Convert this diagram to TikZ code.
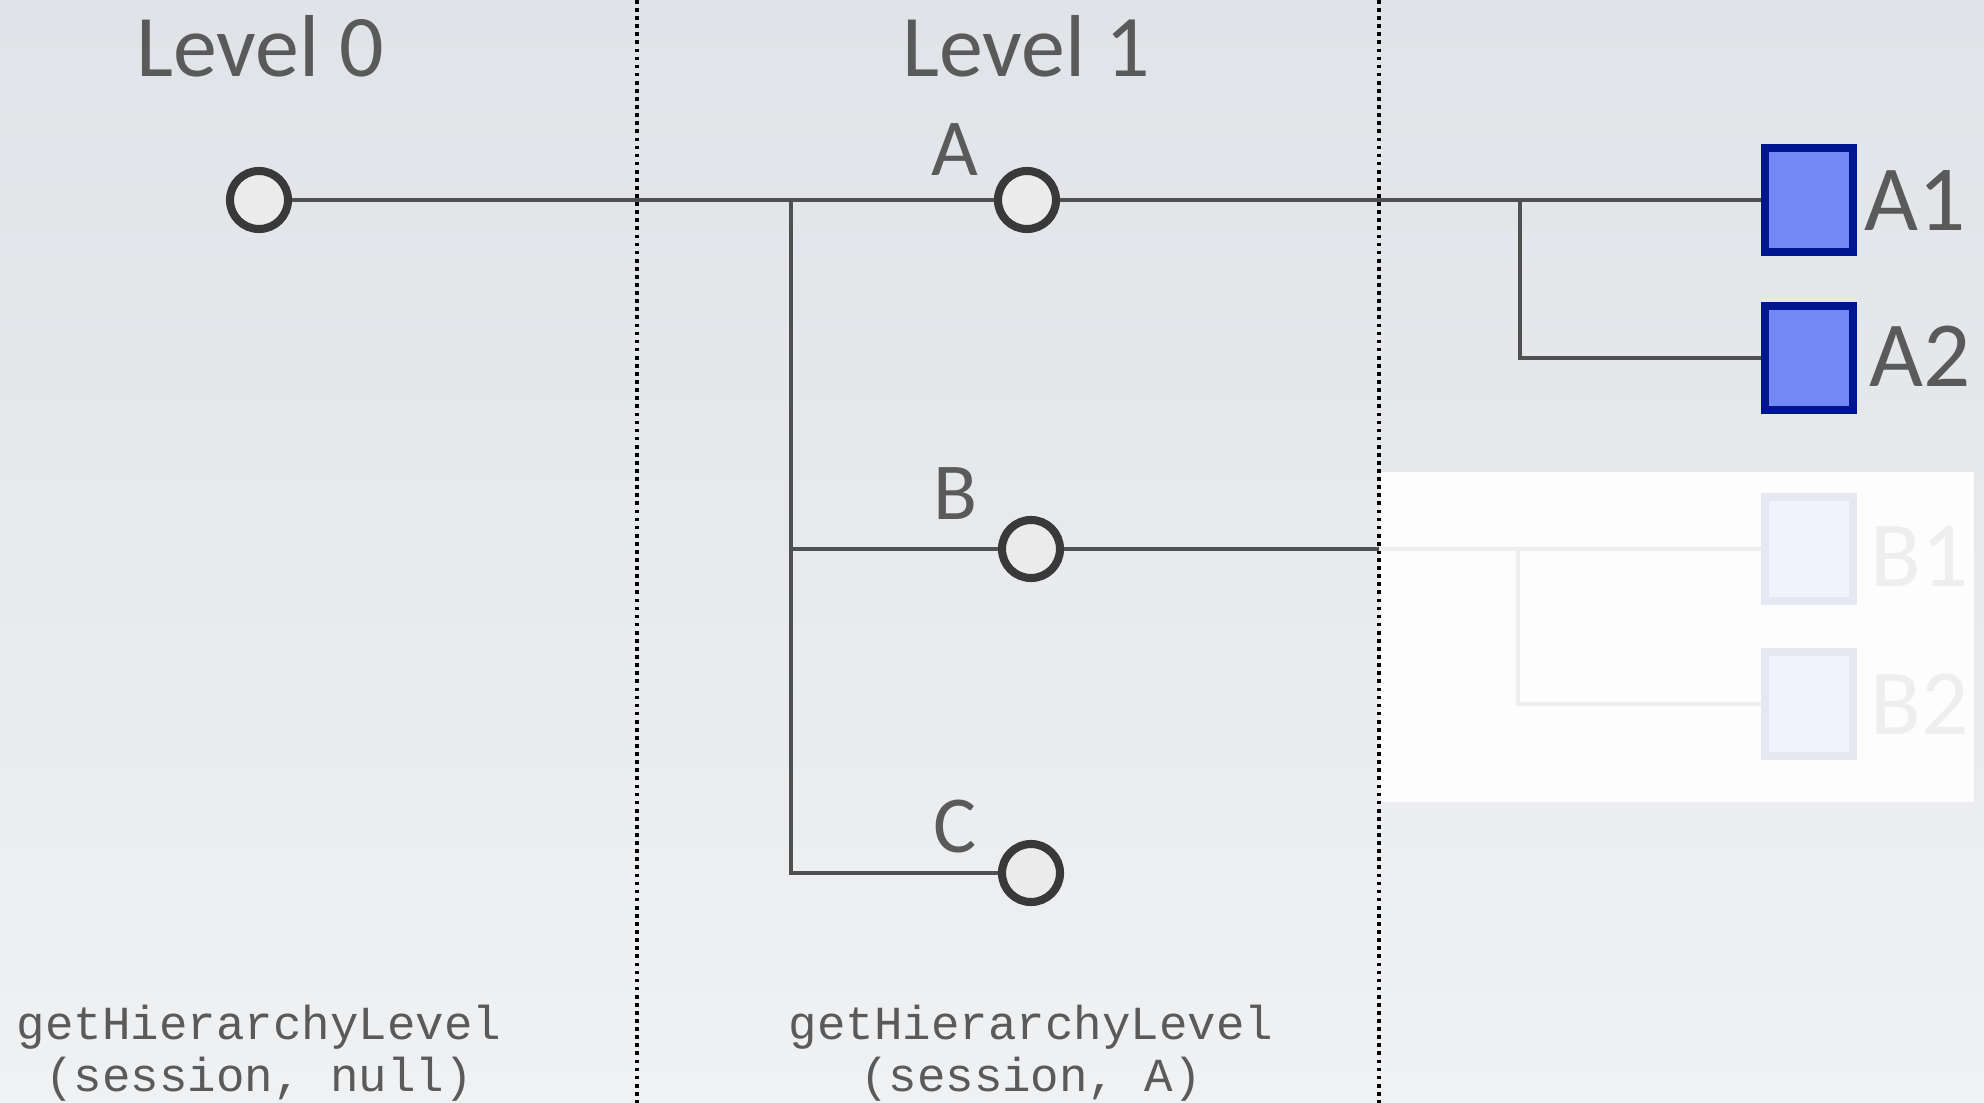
\documentclass[tikz,border=0pt]{standalone}
\usepackage{fontspec}
\setmainfont{Carlito}
\setmonofont{Liberation Mono}
\usepackage{tikz}
\usetikzlibrary{positioning}
\definecolor{bgtop}{HTML}{E0E3E7}
\definecolor{bgbot}{HTML}{EFF1F3}
\definecolor{wirecol}{HTML}{505050}
\definecolor{inkcol}{HTML}{5A5A5A}
\definecolor{knobfill}{HTML}{EBEBEB}
\definecolor{knobline}{HTML}{393939}
\definecolor{cellfill}{HTML}{7388F4}
\definecolor{cellline}{HTML}{00168F}
\definecolor{ghostbg}{HTML}{FDFDFD}
\definecolor{ghostwire}{HTML}{EEEEEE}
\definecolor{ghostfill}{HTML}{F0F3FE}
\definecolor{ghostline}{HTML}{E5E8F3}

\begin{document}
\begin{tikzpicture}[x=0.01cm, y=-0.01cm,
    knot/.style={circle, draw=knobline, fill=knobfill, line width=2.3pt, minimum size=0.58cm, inner sep=0pt},
    leaf/.style={rectangle, draw=cellline, fill=cellfill, line width=2.1pt, minimum width=0.88cm, minimum height=1.04cm, inner sep=0pt},
    ghostleaf/.style={leaf, draw=ghostline, fill=ghostfill},
    wire/.style={draw=wirecol, line width=1pt},
    ghostlink/.style={draw=ghostwire, line width=0.9pt},
    divider/.style={draw=black, line width=1.05pt, dash pattern=on 1.05pt off 1.25pt},
    lvl/.style={text=inkcol, font=\fontsize{25}{30}\selectfont, inner sep=0pt},
    tag/.style={text=inkcol, font=\fontsize{23}{27}\selectfont, inner sep=0pt},
    leaftag/.style={text=inkcol, font=\fontsize{26.5}{31}\selectfont, inner sep=0pt, anchor=base west},
    code/.style={text=inkcol, font=\fontsize{13.5}{15}\ttfamily, inner sep=0pt, anchor=base}]
      \useasboundingbox (0,0) rectangle (1984,1103);
      \shade[top color=bgtop, bottom color=bgbot] (0,0) rectangle (1984,1103);
      \fill[ghostbg] (1380,472) rectangle (1974,802);

      \draw[divider] (637,0) -- (637,1103);
      \draw[divider] (1379,0) -- (1379,1103);

      \node[lvl, anchor=base] (lvl0) at (260,76) {Level 0};
      \node[lvl, anchor=base] (lvl1) at (1026,76) {Level 1};

      \node[knot] (root) at (259,200) {};
      \node[knot] (A) at (1027,200) {};
      \node[knot] (B) at (1031,549) {};
      \node[knot] (C) at (1031,873) {};
      \node[tag, anchor=base] (labA) at (955,175) {A};
      \node[tag, anchor=base] (labB) at (955,519) {B};
      \node[tag, anchor=base] (labC) at (955,852) {C};

      \node[leaf] (A1) at (1809,200) {};
      \node[leaf] (A2) at (1809,358) {};
      \node[leaftag] (labA1) at (1864,230) {A1};
      \node[leaftag] (labA2) at (1869,386) {A2};

      \node[ghostleaf] (B1) at (1809,549) {};
      \node[ghostleaf] (B2) at (1809,704) {};
      \node[leaftag, text=ghostwire] (labB1) at (1870,586) {B1};
      \node[leaftag, text=ghostwire] (labB2) at (1870,734) {B2};

      \coordinate (jroot) at (791,200);
      \coordinate (jA) at (1520,200);
      \coordinate (cutB) at (1379,549);
      \coordinate (jB) at (1518,549);

      \draw[ghostlink] (cutB) -- (B1);
      \draw[ghostlink] (jB) |- (B2);

      \draw[wire] (root) -- (A);
      \draw[wire] (jroot) |- (B);
      \draw[wire] (jroot) |- (C);
      \draw[wire] (A) -- (A1);
      \draw[wire] (jA) |- (A2);
      \draw[wire] (B) -- (cutB);

      \node[code] (call0a) at (259,1039) {getHierarchyLevel};
      \node[code] (call0b) at (259,1091) {(session, null)};
      \node[code] (call1a) at (1031,1039) {getHierarchyLevel};
      \node[code] (call1b) at (1031,1091) {(session, A)};
    \end{tikzpicture}
\end{document}
